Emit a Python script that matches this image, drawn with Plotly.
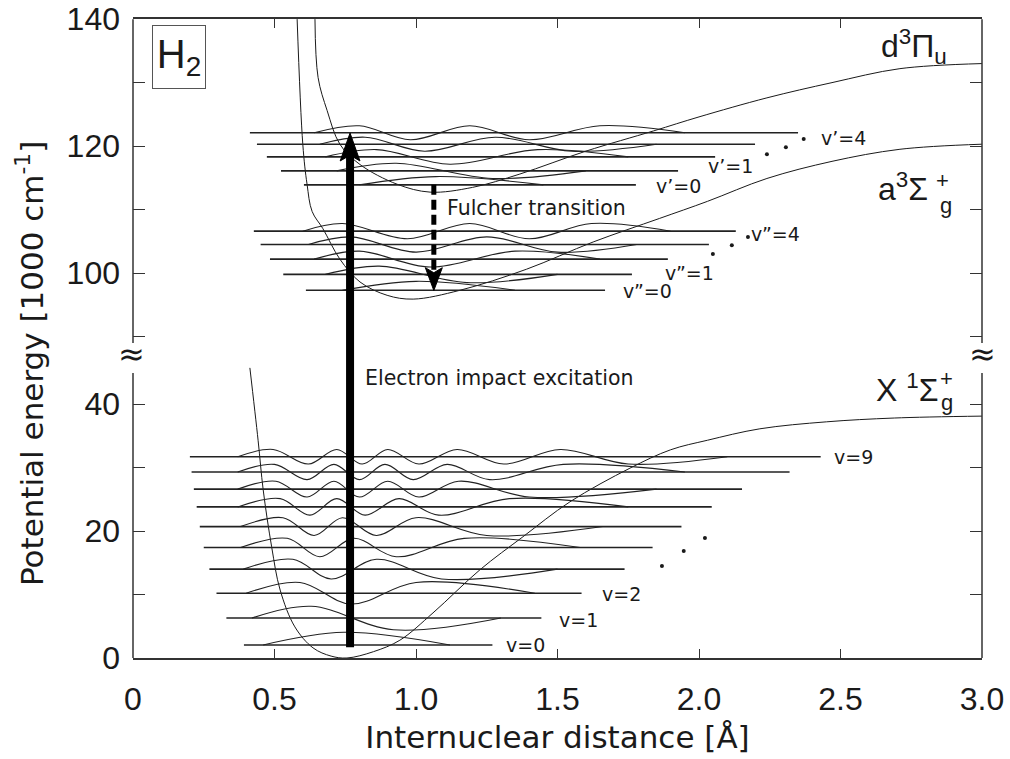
import plotly.graph_objects as go

# ---------------- axis break (display coordinate) ----------------
OFFSET = 39.37          # energies of the upper panel are shifted down by this amount
BREAK_LO = 44.9         # display value where the lower frame segment ends
BREAK_HI = 49.6         # display value where the upper frame segment starts
E_MAX = 140.0           # top of the frame (1000 cm^-1)


def disp(E, upper):
    return E - OFFSET if upper else E


Y_TOP = disp(E_MAX, True)

# ---------------- potential curves (r in Å, E in 1000 cm^-1) ----------------
X_r = [0.413, 0.442, 0.46, 0.49, 0.52, 0.572, 0.636, 0.70, 0.756, 0.85, 0.943, 1.06,
       1.226, 1.378, 1.544, 1.756, 1.90, 2.03, 2.215, 2.45, 2.69, 3.0]
X_E = [45.7, 34.3, 26.5, 17.5, 10.7, 4.9, 1.6, 0.3, 0.0, 1.0, 2.8, 7.1,
       13.9, 19.1, 24.6, 29.9, 32.8, 34.3, 36.1, 37.2, 37.8, 38.1]

a_r = [0.58, 0.60, 0.615, 0.633, 0.671, 0.731, 0.802, 0.898, 0.99, 1.156, 1.39, 1.626,
       1.86, 2.03, 2.24, 2.47, 2.71, 3.0]
a_E = [140.0, 120.3, 114.0, 109.7, 107.0, 102.2, 98.6, 96.5, 95.9, 97.3, 100.6, 104.9,
       108.6, 111.3, 114.9, 117.6, 119.5, 120.3]

d_r = [0.643, 0.654, 0.686, 0.731, 0.802, 0.933, 1.05, 1.20, 1.367, 1.60, 1.84, 2.0,
       2.24, 2.47, 2.71, 3.0]
d_E = [140.0, 130.8, 125.6, 120.3, 117.1, 114.0, 112.75, 113.5, 115.6, 119.2, 122.4, 124.6,
       127.6, 130.0, 132.2, 133.0]

# ---------------- vibrational levels ----------------
X_lev_E = [2.05, 6.3, 10.2, 14.0, 17.4, 20.7, 23.8, 26.6, 29.3, 31.7]
X_line_l = [0.392, 0.33, 0.295, 0.27, 0.25, 0.236, 0.225, 0.215, 0.207, 0.201]
X_line_r = [1.27, 1.443, 1.585, 1.737, 1.836, 1.938, 2.045, 2.152, 2.32, 2.43]
X_lobes = [
    [0.745],
    [0.63, 0.92],
    [0.59, 0.77, 1.00],
    [0.565, 0.70, 0.86, 1.09],
    [0.545, 0.66, 0.78, 0.93, 1.17],
    [0.53, 0.64, 0.74, 0.86, 1.00, 1.25],
    [0.52, 0.625, 0.72, 0.82, 0.94, 1.08, 1.33],
    [0.505, 0.615, 0.71, 0.80, 0.90, 1.01, 1.15, 1.40],
    [0.50, 0.615, 0.71, 0.80, 0.89, 0.99, 1.11, 1.26, 1.52],
    [0.495, 0.62, 0.72, 0.81, 0.90, 1.01, 1.145, 1.31, 1.51, 1.75],
]
X_amp = [2.0, 1.85, 1.7, 1.55, 1.45, 1.4, 1.3, 1.25, 1.2, 1.15]
X_tail_l = [0.46, 0.42, 0.40, 0.39, 0.38, 0.38, 0.37, 0.37, 0.37, 0.37]
X_tail_r = [1.12, 1.30, 1.42, 1.50, 1.58, 1.66, 1.75, 1.85, 1.95, 2.10]

d_lev_E = [113.9, 116.1, 118.3, 120.3, 122.1]
d_line_l = [0.604, 0.523, 0.473, 0.438, 0.413]
d_line_r = [1.777, 1.926, 2.057, 2.198, 2.35]
d_lobes = [
    [1.07],
    [0.93, 1.27],
    [0.86, 1.12, 1.43],
    [0.82, 1.03, 1.28, 1.55],
    [0.80, 0.98, 1.19, 1.40, 1.65],
]
d_amp = [1.3, 1.2, 1.15, 1.1, 1.1]
d_tail_l = [0.80, 0.72, 0.68, 0.66, 0.64]
d_tail_r = [1.45, 1.60, 1.75, 1.85, 1.95]

a_lev_E = [97.3, 99.8, 102.2, 104.5, 106.6]
a_line_l = [0.611, 0.531, 0.484, 0.451, 0.427]
a_line_r = [1.668, 1.763, 1.89, 2.035, 2.13]
a_lobes = [
    [1.0],
    [0.87, 1.18],
    [0.80, 1.05, 1.35],
    [0.77, 1.00, 1.25, 1.50],
    [0.74, 0.97, 1.19, 1.40, 1.62],
]
a_amp = [1.4, 1.3, 1.25, 1.2, 1.2]
a_tail_l = [0.74, 0.68, 0.64, 0.62, 0.60]
a_tail_r = [1.35, 1.50, 1.65, 1.78, 1.90]

# ---------------- labels ----------------
X_lab = ["v=0", "v=1", "v=2", "v=9"]
X_lab_r = [1.387, 1.573, 1.726, 2.545]
X_lab_E = [2.05, 6.0, 10.1, 31.65]
d_lab = ["v\u2019=0", "v\u2019=1", "v\u2019=4"]
d_lab_r = [1.927, 2.113, 2.512]
d_lab_E = [113.65, 116.8, 121.3]
a_lab = ["v\u201d=0", "v\u201d=1", "v\u201d=4"]
a_lab_r = [1.817, 1.965, 2.272]
a_lab_E = [97.1, 100.0, 106.2]

X_dots_r = [1.869, 1.946, 2.021]
X_dots_E = [14.5, 16.85, 18.9]
a_dots_r = [2.049, 2.116, 2.173]
a_dots_E = [103.0, 104.4, 105.7]
d_dots_r = [2.24, 2.307, 2.37]
d_dots_E = [118.7, 119.8, 121.1]

# transitions
EXC_r, EXC_E0, EXC_E1 = 0.767, 1.7, 122.06
FUL_r, FUL_E0, FUL_E1 = 1.063, 113.9, 97.25

x_ticks = [0, 0.5, 1.0, 1.5, 2.0, 2.5, 3.0]
x_ticktext = ["0", "0.5", "1.0", "1.5", "2.0", "2.5", "3.0"]
y_ticks_low = [0, 10, 20, 30, 40]
y_ticks_up = [90, 100, 110, 120, 130, 140]
y_labelled = [0, 20, 40, 100, 120, 140]

INK = "#1a1a1a"
TICKFONT = "Liberation Sans, Arial, sans-serif"
TXTFONT = "DejaVu Sans, sans-serif"

fig = go.Figure()


def line(xs, ys, width=1.0, color=INK, shape="spline", dash=None):
    fig.add_trace(go.Scatter(x=xs, y=ys, mode="lines", showlegend=False, hoverinfo="skip",
                             line=dict(color=color, width=width, shape=shape,
                                       smoothing=1.0, dash=dash)))


# potential curves
line(X_r, [disp(e, False) for e in X_E])
line(a_r, [disp(e, True) for e in a_E])
line(d_r, [disp(e, True) for e in d_E])


def levels(Es, ll, lr, lobes, amps, tl, tr, upper):
    for E, xl, xr, lb, A, t0, t1 in zip(Es, ll, lr, lobes, amps, tl, tr):
        base = disp(E, upper)
        line([xl, xr], [base, base], width=1.6, color="#222", shape="linear")
        xs = [t0] + lb + [t1]
        ys = [base] + [base + (A if i % 2 == 0 else -A) for i in range(len(lb))] + [base]
        line(xs, ys, width=1.1, color="#222")


levels(X_lev_E, X_line_l, X_line_r, X_lobes, X_amp, X_tail_l, X_tail_r, False)
levels(d_lev_E, d_line_l, d_line_r, d_lobes, d_amp, d_tail_l, d_tail_r, True)
levels(a_lev_E, a_line_l, a_line_r, a_lobes, a_amp, a_tail_l, a_tail_r, True)

# continuation dots
for rs, Es, up in [(X_dots_r, X_dots_E, False), (a_dots_r, a_dots_E, True), (d_dots_r, d_dots_E, True)]:
    fig.add_trace(go.Scatter(x=rs, y=[disp(e, up) for e in Es], mode="markers", showlegend=False,
                             hoverinfo="skip", marker=dict(color=INK, size=4)))

# electron impact excitation arrow (thick)
tip = disp(EXC_E1, True)
head_len, head_half, notch = 4.4, 0.035, 0.9
line([EXC_r, EXC_r], [disp(EXC_E0, False), tip - head_len + notch], width=8, color="black", shape="linear")
fig.add_trace(go.Scatter(
    x=[EXC_r, EXC_r + head_half, EXC_r, EXC_r - head_half, EXC_r],
    y=[tip, tip - head_len, tip - head_len + notch, tip - head_len, tip],
    mode="lines", fill="toself", fillcolor="black", line=dict(color="black", width=1),
    showlegend=False, hoverinfo="skip"))

# Fulcher transition arrow (dashed)
ftip = disp(FUL_E1, True)
fh_len, fh_half, fnotch = 3.6, 0.03, 0.8
line([FUL_r, FUL_r], [disp(FUL_E0, True), ftip + fh_len - fnotch], width=5, color="black",
     shape="linear", dash="10px,5px")
fig.add_trace(go.Scatter(
    x=[FUL_r, FUL_r + fh_half, FUL_r, FUL_r - fh_half, FUL_r],
    y=[ftip, ftip + fh_len, ftip + fh_len - fnotch, ftip + fh_len, ftip],
    mode="lines", fill="toself", fillcolor="black", line=dict(color="black", width=1),
    showlegend=False, hoverinfo="skip"))

annotations = []


def text(t, r, E, upper, size, font=TXTFONT, **kw):
    annotations.append(dict(text=t, x=r, y=disp(E, upper), xref="x", yref="y", showarrow=False,
                            font=dict(family=font, size=size, color=INK), **kw))


for t, r, E in zip(X_lab, X_lab_r, X_lab_E):
    text(t, r, E, False, 19)
for t, r, E in zip(d_lab, d_lab_r, d_lab_E):
    text(t, r, E, True, 19)
for t, r, E in zip(a_lab, a_lab_r, a_lab_E):
    text(t, r, E, True, 19)

text("Electron impact excitation", 1.295, 44.1, False, 20.5)
text("Fulcher transition", 1.426, 110.2, True, 20.5)

# state labels
text("d<sup>3</sup>\u03a0<sub>u</sub>", 2.758, 135.7, True, 32, font=TICKFONT)
text("a<sup>3</sup>\u03a3", 2.815, 113.6, True, 32, font=TICKFONT, xanchor="right")
text("+", 2.862, 114.6, True, 22, font=TICKFONT)
text("g", 2.872, 110.6, True, 22, font=TICKFONT)
text("X <sup>1</sup>\u03a3", 2.853, 42.6, False, 32, font=TICKFONT, xanchor="right")
text("+", 2.873, 44.0, False, 22, font=TICKFONT)
text("g", 2.878, 40.3, False, 22, font=TICKFONT)

# H2 box
annotations.append(dict(text="H<sub>2</sub>", x=0.0542, y=0.9398, xref="paper", yref="paper",
                        xanchor="center", yanchor="middle",
                        showarrow=False, font=dict(family=TICKFONT, size=40, color=INK),
                        bordercolor="#555", borderwidth=1, width=50, height=60, borderpad=1))

# axis break marks
for xp, xs in [(0, -2), (1, 0)]:
    annotations.append(dict(text="\u2248", x=xp, y=47.9, xref="paper", yref="y", showarrow=False,
                            xanchor="center", yanchor="middle", xshift=xs,
                            font=dict(family="DejaVu Sans, sans-serif", size=32, color=INK)))

# y title
annotations.append(dict(text="Potential energy [1000 cm<sup>-1</sup>]", x=-0.1213, y=0.46,
                        xref="paper", yref="paper", showarrow=False, textangle=-90,
                        xanchor="center", yanchor="middle",
                        font=dict(family=TXTFONT, size=31, color=INK)))

# broken left/right frame
shapes = []
for xp in [0, 1]:
    shapes.append(dict(type="line", xref="paper", yref="y", x0=xp, x1=xp, y0=0, y1=BREAK_LO,
                       line=dict(color="#333", width=1.5)))
    shapes.append(dict(type="line", xref="paper", yref="y", x0=xp, x1=xp, y0=BREAK_HI, y1=Y_TOP,
                       line=dict(color="#333", width=1.5)))

ytv = [disp(v, False) for v in y_ticks_low] + [disp(v, True) for v in y_ticks_up]
ytt = [str(v) if v in y_labelled else "" for v in y_ticks_low + y_ticks_up]

fig.update_layout(
    width=1010, height=759,
    margin=dict(l=133, r=28, t=19, b=101),
    plot_bgcolor="white", paper_bgcolor="white",
    annotations=annotations, shapes=shapes,
    xaxis=dict(range=[0, 3.0], tickvals=x_ticks, ticktext=x_ticktext, ticks="inside", ticklen=9,
               tickwidth=1.2, tickcolor="#333", showline=True, linecolor="#333", linewidth=1.5,
               mirror="ticks", showgrid=False, zeroline=False, ticklabelstandoff=12,
               automargin=False, ticklabeloverflow="allow",
               tickfont=dict(family=TICKFONT, size=32, color=INK),
               title=dict(text="Internuclear distance [\u00c5]", standoff=10,
                          font=dict(family=TXTFONT, size=31, color=INK))),
    yaxis=dict(range=[0, Y_TOP + 0.02], tickvals=ytv, ticktext=ytt, ticks="inside", ticklen=12,
               tickwidth=1.2, tickcolor="#333", showline=False, mirror="ticks",
               showgrid=False, zeroline=False, ticklabelstandoff=12, automargin=False,
               ticklabeloverflow="allow",
               tickfont=dict(family=TICKFONT, size=32, color=INK)),
)

# remove the browser's default 8 px page margin so the figure fills the window exactly
fig.write_html("out.html", config={"displayModeBar": False},
               post_script="document.body.style.margin='0';document.body.style.overflow='hidden';")
